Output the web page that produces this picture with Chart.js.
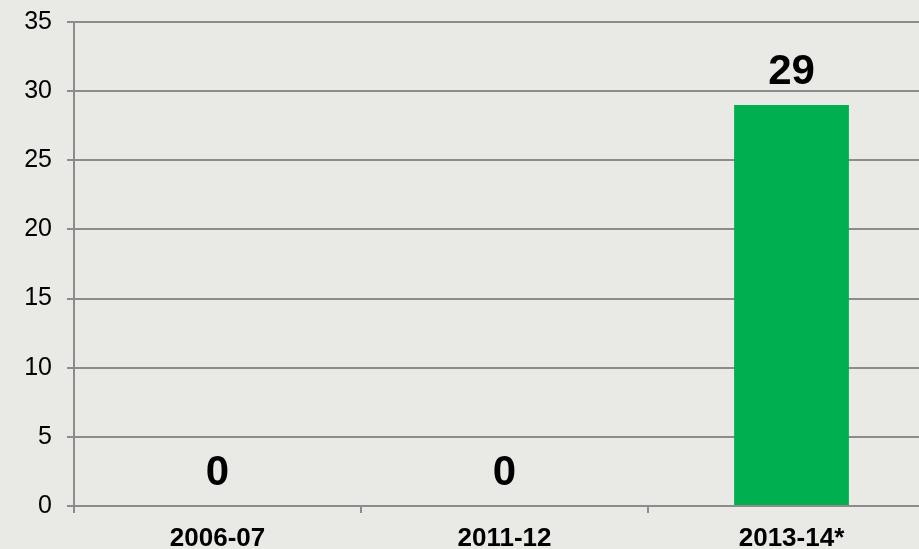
<!DOCTYPE html>
<html>
<head>
<meta charset="utf-8">
<script src="https://cdn.jsdelivr.net/npm/chart.js@4/dist/chart.umd.min.js"></script>
<style>
html,body{margin:0;padding:0;overflow:hidden;background:#e9e9e5;width:919px;height:549px;}
#wrap{position:absolute;left:0;top:0;width:935px;height:549px;}
</style>
</head>
<body>
<div id="wrap"><canvas id="c" width="935" height="549"></canvas></div>
<script>
const categories = ["2006-07", "2011-12", "2013-14*"];
const values = [0, 0, 29];
const yTicks = [0, 5, 10, 15, 20, 25, 30, 35];

const FONT = "'Liberation Sans', Arial, sans-serif";
const GRID = '#8c8c8c';

const labelPlugin = {
  id: 'valueLabels',
  afterDatasetsDraw(chart) {
    const ctx = chart.ctx;
    const meta = chart.getDatasetMeta(0);
    ctx.save();
    ctx.font = 'bold 42px ' + FONT;
    ctx.fillStyle = '#000';
    ctx.textAlign = 'center';
    ctx.textBaseline = 'alphabetic';
    meta.data.forEach((el, i) => {
      ctx.fillText(String(values[i]), el.x, el.y - 21);
    });
    ctx.restore();
  }
};

new Chart(document.getElementById('c'), {
  type: 'bar',
  data: {
    labels: categories,
    datasets: [{
      data: values,
      backgroundColor: '#00b050',
      borderWidth: 0,
      barPercentage: 0.4,
      categoryPercentage: 1.0
    }]
  },
  options: {
    responsive: false,
    animation: false,
    devicePixelRatio: 1,
    layout: { padding: { top: 22, right: 0, left: 0, bottom: 0 } },
    plugins: { legend: { display: false }, tooltip: { enabled: false } },
    scales: {
      x: {
        offset: true,
        grid: { display: true, offset: true, drawOnChartArea: false, drawTicks: true, tickLength: 7, color: GRID, lineWidth: 2 },
        border: { display: true, color: GRID, width: 2 },
        ticks: { color: '#000', font: { family: FONT, size: 26, weight: 'bold' }, padding: 10, maxRotation: 0 },
        afterFit(s) { s.height = 43; s.paddingLeft = 0; s.paddingRight = 0; }
      },
      y: {
        min: 0, max: 35,
        afterBuildTicks(s) { s.ticks = yTicks.map(v => ({ value: v })); },
        grid: { color: GRID, lineWidth: 2, tickLength: 7, drawTicks: true },
        border: { display: true, color: GRID, width: 2 },
        ticks: { color: '#000', font: { family: FONT, size: 25 }, padding: 15 },
        afterFit(s) { s.width = 74; s.paddingTop = 0; s.paddingBottom = 0; }
      }
    }
  },
  plugins: [labelPlugin]
});
</script>
</body>
</html>
